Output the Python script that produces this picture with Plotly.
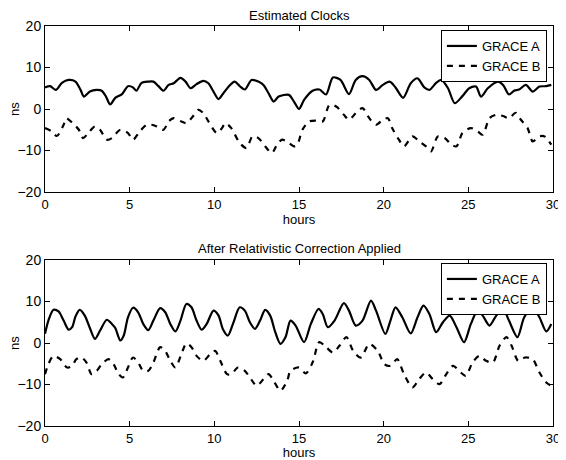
import plotly.graph_objects as go

# ---- Data ----
top_a_hours = [0, 0.3, 0.65, 1.0, 1.4, 1.8, 2.1, 2.3, 2.65, 3.05, 3.35, 3.6, 3.85, 4.15, 4.55, 4.9, 5.2, 5.4,
               5.7, 6.1, 6.4, 6.7, 7.0, 7.3, 7.6, 8.0, 8.3, 8.6, 8.95, 9.35, 9.65, 9.95, 10.25, 10.5, 10.8,
               11.2, 11.5, 11.8, 12.2, 12.6, 12.9, 13.2, 13.5, 13.8, 14.4, 14.7, 15.0, 15.3, 15.8, 16.2,
               16.6, 17.0, 17.45, 17.95, 18.35, 18.75, 19.15, 19.55, 19.95, 20.35, 20.7, 21.15, 21.6, 22.0,
               22.4, 22.7, 23.1, 23.4, 23.8, 24.2, 24.65, 25.05, 25.45, 25.75, 26.15, 26.75, 27.05, 27.4,
               27.7, 28.0, 28.4, 28.8, 29.2, 29.6, 29.9]
top_a_ns = [5.2, 5.5, 4.6, 6.3, 7.0, 6.6, 4.6, 3.0, 4.2, 4.6, 4.4, 3.0, 1.1, 2.7, 3.6, 5.5, 5.2, 4.4,
            6.3, 6.6, 6.6, 5.5, 4.4, 5.8, 6.2, 7.5, 6.6, 5.0, 6.0, 6.8, 6.2, 4.2, 2.4, 3.6, 5.2,
            6.6, 5.5, 4.7, 7.0, 6.6, 5.8, 3.8, 1.8, 3.0, 3.4, 1.8, 0.0, 2.2, 4.4, 4.7,
            3.5, 7.6, 7.0, 3.6, 7.0, 7.9, 7.0, 4.6, 5.8, 6.6, 5.2, 2.7, 6.2, 7.4,
            5.2, 4.6, 6.3, 7.0, 5.0, 1.4, 3.1, 5.0, 5.4, 3.0, 5.0, 6.6, 5.8, 3.5,
            4.4, 4.7, 5.8, 4.2, 5.4, 5.5, 5.8]

top_b_hours = [0, 0.4, 0.7, 1.1, 1.25, 1.6, 2.0, 2.25, 2.55, 2.95, 3.25, 3.65, 3.95, 4.45, 4.9, 5.2, 5.6,
               6.0, 6.3, 6.6, 7.0, 7.3, 7.6, 8.05, 8.35, 8.75, 9.05, 9.35, 9.65, 10.15, 10.45, 10.65, 11.0,
               11.5, 11.9, 12.25, 12.6, 13.0, 13.4, 13.7, 14.0, 14.4, 14.7, 14.9, 15.2, 15.6, 16.0, 16.4,
               16.8, 17.2, 17.65, 17.95, 18.35, 18.75, 19.15, 19.55, 19.95, 20.25, 20.5, 20.9, 21.2, 21.7,
               22.1, 22.5, 22.8, 23.2, 23.6, 24.0, 24.3, 24.65, 25.15, 25.55, 25.85, 26.25, 26.65, 27.05,
               27.4, 27.8, 28.1, 28.5, 28.8, 29.2, 29.5, 29.9]
top_b_ns = [-4.6, -5.4, -6.5, -3.8, -2.2, -3.3, -5.0, -7.0, -5.8, -4.2, -5.0, -7.4, -7.0, -5.0, -5.8, -7.4, -5.4,
            -3.8, -3.8, -4.2, -5.0, -3.0, -2.2, -3.0, -3.4, -1.7, -0.2, -1.0, -3.0, -5.8, -4.6, -3.4, -4.6,
            -8.2, -9.4, -6.6, -7.0, -9.0, -10.6, -8.6, -7.4, -8.2, -9.0, -8.6, -5.0, -3.0, -2.8, -3.0,
            1.0, 0.6, -1.4, -2.6, -1.0, 0.2, -2.2, -3.8, -2.6, -2.2, -4.6, -7.4, -9.0, -6.6,
            -7.8, -9.0, -10.2, -6.6, -7.0, -8.6, -9.0, -5.8, -4.6, -5.4, -6.2, -2.2, -1.4, -1.7,
            -2.2, -0.9, -2.6, -4.6, -7.8, -6.6, -6.6, -8.6]

bot_a_hours = [0, 0.2, 0.5, 0.8, 1.1, 1.4, 1.6, 1.8, 2.05, 2.35, 2.65, 2.95, 3.25, 3.65, 3.95, 4.15, 4.45,
               4.65, 4.9, 5.2, 5.5, 5.8, 6.1, 6.4, 6.8, 7.1, 7.4, 7.7, 8.0, 8.35, 8.65, 8.95, 9.25, 9.55,
               9.95, 10.25, 10.5, 10.8, 11.1, 11.5, 11.8, 12.1, 12.4, 12.7, 13.0, 13.3, 13.6, 13.9, 14.2,
               14.5, 14.8, 15.3, 15.7, 16.15, 16.4, 16.7, 17.1, 17.65, 17.95, 18.35, 18.75, 19.25, 19.55,
               20.1, 20.4, 20.7, 21.1, 21.6, 22.0, 22.35, 22.7, 23.1, 23.5, 23.9, 24.3, 24.75, 25.15,
               25.55, 25.85, 26.25, 26.65, 27.05, 27.4, 27.9, 28.3, 28.8, 29.2, 29.6, 29.9]
bot_a_ns = [2.2, 5.4, 8.0, 7.6, 5.4, 3.2, 3.8, 6.4, 8.0, 6.6, 3.6, 1.0, 3.0, 5.6, 4.6, 3.6, 0.6,
            1.8, 6.2, 8.5, 7.4, 4.6, 3.1, 5.4, 8.4, 7.4, 4.6, 2.8, 5.4, 9.4, 8.6, 5.4, 3.2, 4.6,
            7.8, 6.6, 3.4, 1.8, 4.6, 8.6, 7.8, 5.0, 3.4, 5.4, 8.0, 6.6, 2.6, -0.2, 1.4,
            5.4, 4.2, 0.2, 4.6, 8.2, 7.0, 3.8, 5.4, 9.6, 7.8, 4.2, 5.4, 10.2, 7.8,
            2.2, 5.4, 8.6, 6.2, 2.3, 6.2, 9.0, 7.0, 2.6, 5.0, 6.6, 3.8, 0.2, 4.6,
            7.8, 6.6, 4.2, 6.6, 8.2, 5.4, 1.4, 6.2, 8.6, 6.2, 2.8, 4.6]

bot_b_hours = [0, 0.2, 0.5, 0.9, 1.3, 1.6, 1.85, 2.15, 2.45, 2.75, 3.05, 3.35, 3.75, 4.05, 4.35, 4.6, 4.9,
               5.2, 5.5, 5.8, 6.1, 6.4, 6.8, 7.1, 7.4, 7.7, 8.05, 8.35, 8.65, 8.95, 9.35, 9.75, 10.05,
               10.35, 10.75, 11.0, 11.4, 11.8, 12.1, 12.5, 12.9, 13.2, 13.5, 13.9, 14.3, 14.5, 15.0,
               15.4, 15.8, 16.2, 16.6, 17.0, 17.4, 17.8, 18.2, 18.65, 19.15, 19.65, 20.05, 20.4, 20.8,
               21.2, 21.7, 22.1, 22.5, 22.9, 23.3, 23.7, 24.1, 24.55, 24.85, 25.25, 25.65, 26.05, 26.45,
               26.85, 27.25, 27.55, 27.95, 28.35, 28.8, 29.2, 29.6, 29.9]
bot_b_ns = [-7.5, -5.1, -3.1, -3.9, -5.9, -5.5, -3.9, -3.5, -4.7, -7.5, -6.7, -5.1, -3.9, -5.1, -7.5, -8.3, -5.9,
            -3.5, -4.7, -6.7, -6.7, -4.7, -1.0, -1.9, -4.3, -5.9, -2.7, -0.1, -1.0, -3.1, -4.3, -2.7, -1.9,
            -4.3, -7.5, -7.5, -5.9, -6.7, -8.3, -10.3, -8.7, -7.5, -9.1, -11.5, -9.1, -6.7, -5.9,
            -7.3, -4.7, 0.2, -1.0, -2.3, -0.6, 1.4, -1.9, -3.5, -0.2, -1.9, -5.1, -5.5, -3.9,
            -7.5, -10.7, -8.7, -7.1, -8.7, -9.9, -7.5, -5.5, -7.1, -7.9, -4.7, -3.1, -4.3, -4.7,
            -0.6, 1.4, -0.6, -4.3, -3.5, -3.9, -7.1, -9.5, -10.3]

x_ticks = [0, 5, 10, 15, 20, 25, 30]
y_ticks = [-20, -10, 0, 10, 20]
titles = ["Estimated Clocks", "After Relativistic Correction Applied"]
names = ["GRACE A", "GRACE B"]
x_label = "hours"
y_label = "ns"

FONT = "Liberation Sans, Arial, Helvetica, sans-serif"

fig = go.Figure()

def add(x, y, name, dash, xa, ya, legend):
    fig.add_trace(go.Scatter(
        x=x, y=y, mode="lines", name=name, xaxis=xa, yaxis=ya, legend=legend,
        line=dict(color="black", width=2.2, dash=dash, shape="spline", smoothing=0.8),
    ))

add(top_a_hours, top_a_ns, names[0], "solid", "x", "y", "legend")
add(top_b_hours, top_b_ns, names[1], "6px,6px", "x", "y", "legend")
add(bot_a_hours, bot_a_ns, names[0], "solid", "x2", "y2", "legend2")
add(bot_b_hours, bot_b_ns, names[1], "6px,6px", "x2", "y2", "legend2")

axis_common = dict(
    showgrid=False, zeroline=False, showline=True, linecolor="black", linewidth=1,
    mirror="allticks", ticks="inside", ticklen=5, tickcolor="black", automargin=False,
)
x_tickfont = dict(family=FONT, size=13, color="black")
y_tickfont = dict(family=FONT, size=14, color="black")

TOP_DOM = [0.585, 1]
BOT_DOM = [0, 0.415]

# page body has an 8px margin, so the figure is sized to fit the window
fig.update_layout(
    width=558, height=452,
    margin=dict(l=37, r=13, t=18, b=34, autoexpand=False),
    paper_bgcolor="white", plot_bgcolor="white",
    font=dict(family=FONT, color="black", size=13),
    showlegend=True,
    xaxis=dict(domain=[0, 1], range=[0, 30], tickvals=x_ticks, anchor="y", tickfont=x_tickfont,
               title=dict(text=x_label, font=dict(size=13), standoff=0), **axis_common),
    yaxis=dict(domain=TOP_DOM, range=[-20, 20], tickvals=y_ticks, anchor="x", tickfont=y_tickfont,
               **axis_common),
    xaxis2=dict(domain=[0, 1], range=[0, 30], tickvals=x_ticks, anchor="y2", tickfont=x_tickfont,
                title=dict(text=x_label, font=dict(size=13), standoff=0), **axis_common),
    yaxis2=dict(domain=BOT_DOM, range=[-20, 20], tickvals=y_ticks, anchor="x2", tickfont=y_tickfont,
                **axis_common),
    legend=dict(x=0.988, y=0.99, xanchor="right", yanchor="top", bgcolor="white",
                bordercolor="black", borderwidth=1, font=dict(size=13, family=FONT),
                tracegroupgap=0, itemwidth=30),
    legend2=dict(x=0.988, y=0.4075, xanchor="right", yanchor="top", bgcolor="white",
                 bordercolor="black", borderwidth=1, font=dict(size=13, family=FONT),
                 tracegroupgap=0, itemwidth=30),
    annotations=[
        dict(text=titles[0], x=0.5, y=TOP_DOM[1], xref="paper", yref="paper", xanchor="center",
             yanchor="bottom", yshift=1, showarrow=False, font=dict(size=13, family=FONT)),
        dict(text=titles[1], x=0.5, y=BOT_DOM[1], xref="paper", yref="paper", xanchor="center",
             yanchor="bottom", yshift=2, showarrow=False, font=dict(size=13, family=FONT)),
        dict(text=y_label, x=0, y=sum(TOP_DOM) / 2, xref="paper", yref="paper", xanchor="center",
             yanchor="middle", xshift=-31, textangle=-90, showarrow=False, font=dict(size=13, family=FONT)),
        dict(text=y_label, x=0, y=sum(BOT_DOM) / 2, xref="paper", yref="paper", xanchor="center",
             yanchor="middle", xshift=-31, textangle=-90, showarrow=False, font=dict(size=13, family=FONT)),
    ],
)

fig.write_html("out.html")
